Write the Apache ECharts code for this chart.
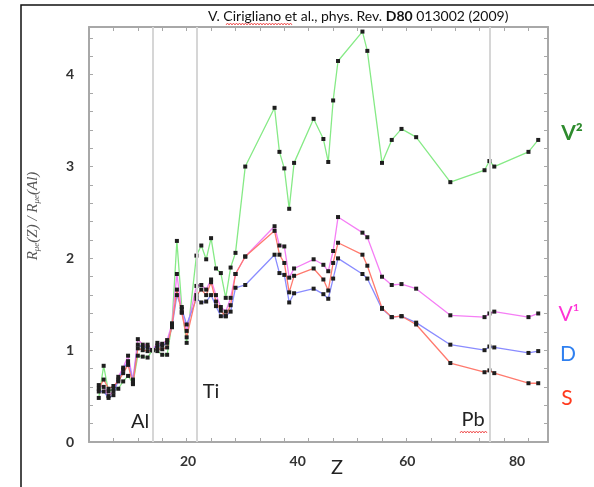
<!DOCTYPE html>
<html>
<head>
<meta charset="utf-8">
<script src="https://cdn.jsdelivr.net/npm/echarts@6/dist/echarts.min.js"></script>
<style>
html, body { margin: 0; padding: 0; background: #fff; }
#chart { width: 594px; height: 487px; }
</style>
</head>
<body>
<div id="chart"></div>
<script>
// 原子序数 Z
var zList  = [2, 3, 4, 5, 6, 7, 8, 9, 10, 11, 12, 13, 14, 15, 16, 17, 18, 19, 20,
              22, 23, 24, 25, 26, 27, 28, 29, 30, 32, 38, 39, 40, 41, 42, 46, 48, 49,
              50, 51, 56, 57, 60, 62, 64, 67, 74, 81, 82, 83, 90, 92];
// V^2
var v2List = [0.48, 0.83, 0.55, 0.58, 0.58, 0.66, 0.72, 0.64, 0.94, 0.93, 0.92, 1.0, 0.99, 0.95, 0.95, 1.29, 2.19, 1.47, 1.08,
              2.03, 2.14, 1.99, 2.22, 1.89, 1.84, 1.57, 1.90, 2.06, 3.0, 3.64, 3.16, 2.98, 2.54, 3.04, 3.52, 3.30, 3.05,
              3.72, 4.15, 4.47, 4.26, 3.04, 3.29, 3.41, 3.32, 2.83, 2.96, 3.06, 3.0, 3.16, 3.29];
// V^1
var v1List = [0.62, 0.60, 0.50, 0.55, 0.71, 0.81, 0.94, 0.68, 1.12, 1.06, 1.06, 1.0, 1.08, 1.07, 1.11, 1.29, 1.83, 1.41, 1.21,
              1.70, 1.71, 1.66, 1.77, 1.60, 1.47, 1.42, 1.57, 1.83, 2.02, 2.35, 2.14, 2.13, 1.79, 1.89, 1.99, 1.93, 1.86,
              2.08, 2.45, 2.28, 2.23, 1.80, 1.71, 1.72, 1.67, 1.38, 1.36, 1.40, 1.42, 1.36, 1.40];
// D
var dList  = [0.55, 0.55, 0.48, 0.51, 0.68, 0.79, 0.88, 0.66, 1.06, 1.03, 1.03, 1.0, 1.05, 1.05, 1.08, 1.25, 1.60, 1.45, 1.28,
              1.56, 1.52, 1.53, 1.60, 1.48, 1.37, 1.37, 1.42, 1.68, 1.71, 2.04, 1.84, 1.82, 1.52, 1.62, 1.67, 1.61, 1.56,
              1.78, 2.00, 1.83, 1.78, 1.45, 1.36, 1.37, 1.30, 1.06, 1.00, 1.04, 1.03, 0.97, 0.99];
// S
var sList  = [0.58, 0.68, 0.58, 0.61, 0.66, 0.75, 0.84, 0.63, 1.02, 1.00, 0.99, 1.0, 1.02, 1.01, 1.03, 1.27, 1.66, 1.41, 1.14,
              1.60, 1.66, 1.60, 1.74, 1.53, 1.43, 1.37, 1.49, 1.83, 2.02, 2.30, 2.04, 1.95, 1.63, 1.81, 1.89, 1.77, 1.65,
              1.95, 2.17, 2.04, 1.92, 1.46, 1.36, 1.37, 1.28, 0.86, 0.76, 0.78, 0.75, 0.64, 0.64];

// 刻度标签
var xTickLabels = [20, 40, 60, 80];
var yTickLabels = [0, 1, 2, 3, 4];
// 参考核
var refNuclei = [{ name: 'Al', z: 13 }, { name: 'Ti', z: 22 }, { name: 'Pb', z: 82 }];

function pairs(ys) {
    return zList.map(function (z, i) { return [z, ys[i]]; });
}

// 拼写检查的红色波浪线
function squiggle(x0, x1, y) {
    var pts = [];
    for (var x = x0, k = 0; x <= x1; x += 1.5, k++) {
        pts.push([x, y + (k % 2 ? -1 : 1)]);
    }
    return {
        type: 'polyline', silent: true,
        shape: { points: pts },
        style: { stroke: '#e33', lineWidth: 0.8, fill: null }
    };
}

var axisGray = '#a8a8a8';
var labelFont = 'Lato, "Open Sans", sans-serif';

function frameAxis(extra) {
    var base = {
        type: 'value',
        axisLine: { onZero: false, lineStyle: { color: axisGray, width: 2 } },
        axisTick: { inside: true, length: 4, lineStyle: { color: axisGray } },
        axisLabel: { show: false },
        splitLine: { show: false }
    };
    return Object.assign(base, extra);
}

function lineSeries(name, ys, color) {
    return {
        name: name,
        type: 'line',
        data: pairs(ys),
        symbol: 'rect',
        symbolSize: 4,
        showAllSymbol: true,
        itemStyle: { color: '#1e1e1e' },
        lineStyle: { color: color, width: 1.3 },
        z: 3
    };
}

var chart = echarts.init(document.getElementById('chart'));
chart.setOption({
    animation: false,
    grid: { left: 89, right: 46, top: 27, bottom: 45, containLabel: false },
    xAxis: [
        frameAxis({ min: 0, max: 94, interval: 5, position: 'bottom' }),
        frameAxis({ min: 0, max: 94, interval: 5, position: 'top' }),
        {
            // 图中刻度文字的位置
            type: 'value', min: 1.94, max: 85.65, position: 'bottom',
            axisLine: { show: false }, axisTick: { show: false }, splitLine: { show: false },
            axisLabel: {
                customValues: xTickLabels, margin: 12,
                color: '#333', fontSize: 14, fontWeight: 'bold', fontFamily: labelFont
            }
        }
    ],
    yAxis: [
        frameAxis({
            min: 0, max: 4.52, interval: 0.2, position: 'left',
            axisLabel: {
                show: true, customValues: yTickLabels, margin: 15,
                color: '#333', fontSize: 14, fontWeight: 'bold', fontFamily: labelFont
            }
        }),
        frameAxis({ min: 0, max: 4.52, interval: 0.2, position: 'right' })
    ],
    series: [
        {
            type: 'line', data: [], z: 1,
            markLine: {
                silent: true, symbol: 'none', label: { show: false },
                lineStyle: { color: '#d6d6d6', width: 2, type: 'solid' },
                data: refNuclei.map(function (n) { return { xAxis: n.z }; })
            }
        },
        lineSeries('V2', v2List, '#86ea86'),
        lineSeries('V1', v1List, '#f57ef5'),
        lineSeries('D', dList, '#8a8cff'),
        lineSeries('S', sList, '#ff7a6e')
    ],
    graphic: [
        { type: 'rect', shape: { x: 21, y: 5, width: 600, height: 520 }, style: { fill: null, stroke: '#111', lineWidth: 1.5 }, silent: true },
        {
            type: 'text', x: 208, y: 16,
            style: {
                text: 'V. Cirigliano et al., phys. Rev. {b|D80} 013002 (2009)',
                rich: { b: { fontWeight: 'bold', fontSize: 14, fontFamily: labelFont, fill: '#111' } },
                fontSize: 14, fontFamily: labelFont, fill: '#111', verticalAlign: 'middle'
            }
        },
        squiggle(226, 292, 24),
        {
            type: 'text', x: 33, y: 216, rotation: Math.PI / 2,
            style: {
                text: 'R{s|μe}(Z) / R{s|μe}(Al)',
                rich: { s: { fontSize: 9, fontStyle: 'italic', fontFamily: '"Liberation Serif", serif', fill: '#555', padding: [8, 0, 0, 0] } },
                fontSize: 15, fontStyle: 'italic', fontFamily: '"Liberation Serif", serif', fill: '#555',
                align: 'center', verticalAlign: 'middle'
            }
        },
        { type: 'text', x: 337, y: 468, style: { text: 'Z', fontSize: 20, fontFamily: labelFont, fill: '#222', align: 'center', verticalAlign: 'middle' } },
        { type: 'text', x: 140, y: 422, style: { text: refNuclei[0].name, fontSize: 20, fontFamily: labelFont, fill: '#222', align: 'center', verticalAlign: 'middle' } },
        { type: 'text', x: 211, y: 392, style: { text: refNuclei[1].name, fontSize: 20, fontFamily: labelFont, fill: '#222', align: 'center', verticalAlign: 'middle' } },
        { type: 'text', x: 473, y: 420, style: { text: refNuclei[2].name, fontSize: 20, fontFamily: labelFont, fill: '#222', align: 'center', verticalAlign: 'middle' } },
        squiggle(460, 487, 432),
        { type: 'text', x: 572, y: 133, style: { text: 'V²', fontSize: 21, fontWeight: 'bold', fontFamily: labelFont, fill: '#2e8b2e', align: 'center', verticalAlign: 'middle' } },
        { type: 'text', x: 569, y: 314, style: { text: 'V¹', fontSize: 21, fontFamily: labelFont, fill: '#ff33d6', align: 'center', verticalAlign: 'middle' } },
        { type: 'text', x: 568, y: 354, style: { text: 'D', fontSize: 21, fontFamily: labelFont, fill: '#2f80f0', align: 'center', verticalAlign: 'middle' } },
        { type: 'text', x: 567, y: 398, style: { text: 'S', fontSize: 21, fontFamily: labelFont, fill: '#ff3a1e', align: 'center', verticalAlign: 'middle' } }
    ]
});
</script>
</body>
</html>
